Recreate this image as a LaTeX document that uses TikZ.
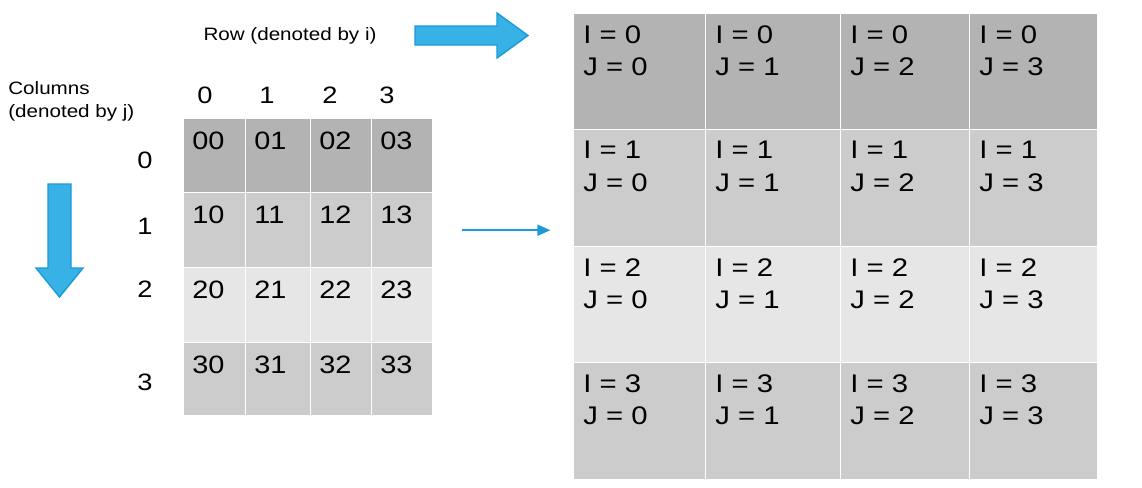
\documentclass[tikz,border=0pt]{standalone}
\usepackage{fontspec}
\setmainfont{Liberation Sans}[FakeStretch=1.15]
\definecolor{shadeA}{RGB}{179,179,179}
\definecolor{shadeB}{RGB}{204,204,204}
\definecolor{shadeC}{RGB}{230,230,230}
\definecolor{arrowfill}{RGB}{56,178,230}
\definecolor{arrowline}{RGB}{26,154,214}
\usetikzlibrary{arrows.meta,positioning,calc}

\begin{document}
\begin{tikzpicture}[x=0.02cm, y=-0.02cm,
  cell/.style={draw=white, line width=0.8pt, inner sep=0pt, anchor=north west},
  celltext/.style={anchor=north west, inner sep=0pt, font=\fontsize{14.3}{17}\selectfont},
  pairtext/.style={anchor=north west, inner sep=0pt, align=left, font=\fontsize{14.5}{18.3}\selectfont},
  index/.style={inner sep=0pt, font=\fontsize{13.5}{16}\selectfont},
  caption/.style={inner sep=0pt, align=left, font=\fontsize{10.2}{13}\selectfont},
  blockarrow/.style={fill=arrowfill, draw=arrowline, line width=0.8pt, line join=miter},
  link/.style={draw=arrowline, line width=1.1pt, -{Triangle[length=0.26cm, width=0.22cm]}}
]
  \useasboundingbox (0,0) rectangle (1142,487);

  % Captions
  \node[caption] (rowcap) at (290,36) {Row (denoted by i)};
  \node[caption, anchor=north west] (colcap) at (8,81) {Columns\\(denoted by j)};

  % Block arrows
  \draw[blockarrow] (415,26) -- (497,26) -- (497,13) -- (528,35.5) -- (497,58) -- (497,45) -- (415,45) -- cycle;
  \draw[blockarrow] (48,184) -- (71,184) -- (71,268) -- (83,268) -- (59.5,297) -- (36,268) -- (48,268) -- cycle;

  % Index labels
  \foreach \c/\x in {0/205,1/267,2/330,3/387}
    \node[index] (top\c) at (\x,95) {\c};
  \foreach \r/\y in {0/160,1/226,2/289,3/382}
    \node[index] (side\r) at (145,\y) {\r};

  % Left table
  \foreach \r/\y/\h/\shade in {0/118/74/shadeA,1/192/75/shadeB,2/267/75/shadeC,3/342/73/shadeB}
    \foreach \c/\x/\w in {0/183/62,1/245/65,2/310/61,3/371/61} {
      \node[cell, fill=\shade, minimum width=\w*0.02cm, minimum height=\h*0.02cm] (L\r\c) at (\x,\y) {};
      \node[celltext] at ($(L\r\c.north west)+(9,14)$) {\r\c};
    }

  % Right table
  \foreach \r/\y/\h/\shade in {0/13/116/shadeA,1/129/117/shadeB,2/246/116/shadeC,3/362/117/shadeB}
    \foreach \c/\x/\w in {0/573/132,1/705/135,2/840/129,3/969/128} {
      \node[cell, fill=\shade, minimum width=\w*0.02cm, minimum height=\h*0.02cm] (R\r\c) at (\x,\y) {};
      \node[pairtext] at ($(R\r\c.north west)+(10,12)$) {I = \r\\J = \c};
    }

  % Mapping arrow
  \coordinate (gapL) at ($(L13.east)+(29,0)$);
  \coordinate (gapR) at ($(L13.east)+(117,0)$);
  \draw[link] (gapL) -- (gapR);
\end{tikzpicture}
\end{document}
